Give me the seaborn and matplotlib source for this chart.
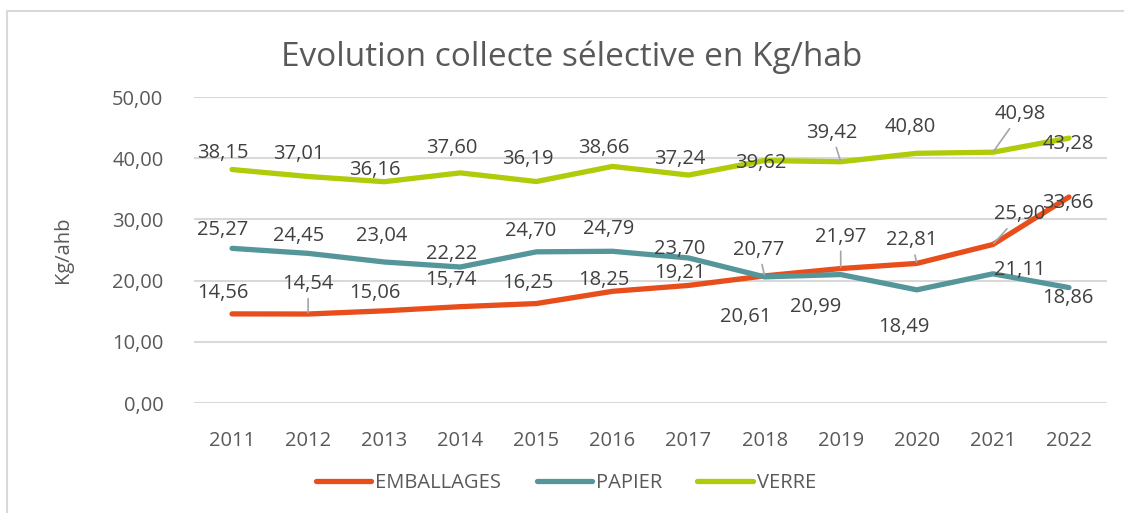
import matplotlib
matplotlib.use("Agg")
import matplotlib.pyplot as plt
import seaborn as sns
import pandas as pd
from matplotlib.lines import Line2D

years = [2011, 2012, 2013, 2014, 2015, 2016, 2017, 2018, 2019, 2020, 2021, 2022]
emballages = [14.56, 14.54, 15.06, 15.74, 16.25, 18.25, 19.21, 20.77, 21.97, 22.81, 25.90, 33.66]
papier = [25.27, 24.45, 23.04, 22.22, 24.70, 24.79, 23.70, 20.61, 20.99, 18.49, 21.11, 18.86]
verre = [38.15, 37.01, 36.16, 37.60, 36.19, 38.66, 37.24, 39.62, 39.42, 40.80, 40.98, 43.28]
series_names = ["EMBALLAGES", "PAPIER", "VERRE"]
y_ticks = [0, 10, 20, 30, 40, 50]

title = "Evolution collecte sélective en Kg/hab"
y_label = "Kg/ahb"

colors = {"EMBALLAGES": "#E84E1B", "PAPIER": "#55969B", "VERRE": "#AFCB0A"}
TXT = "#595959"
GRID = "#D9D9D9"

# label offsets in pixels (dx, dy up-positive), and whether a leader line is drawn
offsets = {
    "VERRE": [(-9, 17), (-9, 22), (-9, 12), (-9, 25), (-9, 23), (-9, 18), (-9, 16),
              (-4, -2), (-9, 29), (-7, 26), (27, 38), (-1, -6)],
    "PAPIER": [(-9, 18), (-9, 17), (-3, 26), (-9, 13), (-6, 21), (-4, 22), (-9, 9),
               (-19, -40), (-25, -32), (-13, -37), (27, 4), (-1, -10)],
    "EMBALLAGES": [(-9, 21), (0, 30), (-9, 18), (-9, 27), (-9, 21), (-9, 11), (-9, 12),
                   (-6, 26), (0, 32), (-5, 23), (27, 30), (-1, -6)],
}
leaders = {
    "VERRE": [8, 10],
    "PAPIER": [],
    "EMBALLAGES": [1, 7, 8, 9, 10],
}

df = pd.DataFrame({
    "year": years * 3,
    "value": emballages + papier + verre,
    "serie": ["EMBALLAGES"] * len(years) + ["PAPIER"] * len(years) + ["VERRE"] * len(years),
})

sns.set_theme(style="white")
plt.rcParams["font.family"] = ["Open Sans", "DejaVu Sans"]

fig = plt.figure(figsize=(11.24, 5.13), dpi=100)
ax = fig.add_axes([194 / 1124, 1 - 403 / 513, (1107 - 194) / 1124, (403 - 97) / 513])

sns.lineplot(data=df, x="year", y="value", hue="serie", hue_order=series_names,
             palette=colors, linewidth=3.8, ax=ax, legend=False, sort=False,
             solid_capstyle="round", zorder=3)

ax.set_ylim(0, 50)
ax.set_xlim(years[0] - 0.5, years[-1] + 0.5)
ax.set_yticks(y_ticks)
ax.set_yticklabels([f"{v:.2f}".replace(".", ",") for v in y_ticks])
ax.set_xticks(years)
ax.set_xticklabels([str(y) for y in years])
ax.tick_params(axis="both", length=0, labelsize=14.5, colors=TXT)
ax.tick_params(axis="y", pad=22)
ax.tick_params(axis="x", pad=20)
ax.grid(axis="y", color=GRID, linewidth=1.5, zorder=0)
ax.grid(axis="x", visible=False)
for s in ax.spines.values():
    s.set_visible(False)
ax.set_xlabel("")
ax.set_ylabel(y_label, fontsize=14.5, color=TXT, labelpad=28)

data_map = {"EMBALLAGES": emballages, "PAPIER": papier, "VERRE": verre}
for name in ["VERRE", "PAPIER", "EMBALLAGES"]:
    vals = data_map[name]
    for i, (yr, v) in enumerate(zip(years, vals)):
        dx, dy = offsets[name][i]
        lab = f"{v:.2f}".replace(".", ",")
        kw = {}
        if i in leaders[name]:
            kw["arrowprops"] = dict(arrowstyle="-", color="#A6A6A6", lw=1.2,
                                    shrinkA=1, shrinkB=1)
        ax.annotate(lab, xy=(yr, v), xytext=(dx, dy), textcoords="offset pixels",
                    ha="center", va="center", fontsize=14.5, color="#404040",
                    zorder=5, **kw)

fig.text(572 / 1124, 1 - 57 / 513, title, ha="center", va="center",
         fontsize=24, color=TXT)

handles = [Line2D([0], [0], color=colors[n], lw=3.8, solid_capstyle="round") for n in series_names]
leg = fig.legend(handles, series_names, loc="center", bbox_to_anchor=(566 / 1124, 1 - 483 / 513),
                 ncol=3, frameon=False, fontsize=14.5, handlelength=2.75,
                 handletextpad=0.2, columnspacing=1.75)
for t in leg.get_texts():
    t.set_color(TXT)

# chart area border (top and left visible)
fig.add_artist(Line2D([7 / 1124, 1.0], [1 - 11 / 513, 1 - 11 / 513], color=GRID, lw=1.5,
                      transform=fig.transFigure))
fig.add_artist(Line2D([7 / 1124, 7 / 1124], [0, 1 - 11 / 513], color=GRID, lw=1.5,
                      transform=fig.transFigure))

fig.savefig("out.png", dpi=100, facecolor="white")
